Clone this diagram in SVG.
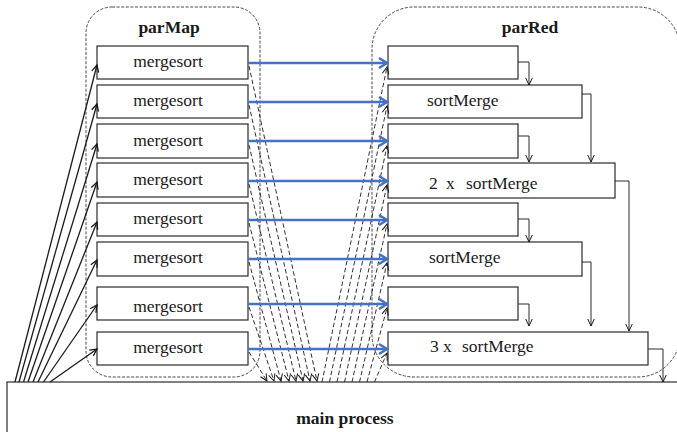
<svg xmlns="http://www.w3.org/2000/svg" width="677" height="432" viewBox="0 0 677 432">
  <style>
    .box { fill: #ffffff; stroke: #2b2b2b; stroke-width: 1.2; }
    .group { fill: none; stroke: #333333; stroke-width: 0.9; stroke-dasharray: 3 1.6; }
    .lbl { font-family: "Liberation Serif", "Times New Roman", serif; font-size: 17.5px; fill: #1a1a1a; }
    .title { font-family: "Liberation Serif", "Times New Roman", serif; font-size: 17.5px; font-weight: bold; fill: #1a1a1a; }
    .spawn { fill: none; stroke: #1a1a1a; stroke-width: 1.3; marker-end: url(#vhead); }
    .data { fill: none; stroke: #4472c4; stroke-width: 2.4; marker-end: url(#bhead); }
    .ret { fill: none; stroke: #1a1a1a; stroke-width: 0.9; stroke-dasharray: 4.5 2.5; marker-end: url(#vsmall); }
    .step { fill: none; stroke: #2b2b2b; stroke-width: 1; marker-end: url(#vsmall); }
  </style>
  <defs>
    <marker id="vhead" markerUnits="userSpaceOnUse" markerWidth="12" markerHeight="12" viewBox="-10 -6 12 12" refX="0" refY="0" orient="auto">
      <path d="M-7,-3.5 L0,0 L-7,3.5" fill="none" stroke="#1a1a1a" stroke-width="1.3"/>
    </marker>
    <marker id="vsmall" markerUnits="userSpaceOnUse" markerWidth="12" markerHeight="12" viewBox="-10 -6 12 12" refX="0" refY="0" orient="auto">
      <path d="M-7,-3.3 L0,0 L-7,3.3" fill="none" stroke="#1a1a1a" stroke-width="1"/>
    </marker>
    <marker id="bhead" markerUnits="userSpaceOnUse" markerWidth="14" markerHeight="14" viewBox="-12 -7 14 14" refX="0" refY="0" orient="auto">
      <path d="M-8,-5 L0,0 L-8,5" fill="none" stroke="#4472c4" stroke-width="2.6"/>
    </marker>
  </defs>

  <!-- main process -->
  <g id="main">
    <rect class="box" x="7" y="382" width="700" height="80"/>
    <text class="title" x="345" y="424" text-anchor="middle">main process</text>
  </g>

  <!-- parMap container -->
  <g id="parMap">
    <rect class="group" x="86" y="7" width="174" height="370" rx="26" ry="26"/>
    <text class="title" x="169" y="33" text-anchor="middle">parMap</text>
  </g>

  <!-- parRed container -->
  <g id="parRed">
    <rect class="group" x="372" y="7" width="308" height="370" rx="42" ry="42"/>
    <text class="title" x="530" y="33" text-anchor="middle">parRed</text>
  </g>

  <!-- mergesort workers -->
  <g id="m1"><rect class="box" x="97" y="46" width="151" height="33"/><text class="lbl" x="168" y="67" text-anchor="middle">mergesort</text></g>
  <g id="m2"><rect class="box" x="97" y="85" width="151" height="33"/><text class="lbl" x="168" y="106" text-anchor="middle">mergesort</text></g>
  <g id="m3"><rect class="box" x="97" y="124" width="151" height="34"/><text class="lbl" x="168" y="146" text-anchor="middle">mergesort</text></g>
  <g id="m4"><rect class="box" x="97" y="163" width="151" height="34"/><text class="lbl" x="168" y="185" text-anchor="middle">mergesort</text></g>
  <g id="m5"><rect class="box" x="97" y="203" width="151" height="33"/><text class="lbl" x="168" y="224" text-anchor="middle">mergesort</text></g>
  <g id="m6"><rect class="box" x="97" y="242" width="151" height="34"/><text class="lbl" x="168" y="263" text-anchor="middle">mergesort</text></g>
  <g id="m7"><rect class="box" x="97" y="287" width="151" height="33"/><text class="lbl" x="168" y="312" text-anchor="middle">mergesort</text></g>
  <g id="m8"><rect class="box" x="97" y="332" width="151" height="33"/><text class="lbl" x="168" y="353" text-anchor="middle">mergesort</text></g>

  <!-- sortMerge reducers -->
  <g id="r1"><rect class="box" x="388" y="46" width="130" height="33"/></g>
  <g id="r2"><rect class="box" x="388" y="85" width="194" height="33"/><text class="lbl" x="427" y="106">sortMerge</text></g>
  <g id="r3"><rect class="box" x="388" y="124" width="130" height="34"/></g>
  <g id="r4"><rect class="box" x="388" y="163" width="227" height="35"/><text class="lbl" y="189"><tspan x="429">2</tspan><tspan x="446">x</tspan><tspan x="466">sortMerge</tspan></text></g>
  <g id="r5"><rect class="box" x="388" y="203" width="130" height="33"/></g>
  <g id="r6"><rect class="box" x="388" y="242" width="194" height="34"/><text class="lbl" x="429" y="263">sortMerge</text></g>
  <g id="r7"><rect class="box" x="388" y="287" width="130" height="33"/></g>
  <g id="r8"><rect class="box" x="388" y="332" width="260" height="33"/><text class="lbl" y="352"><tspan x="430">3</tspan><tspan x="443">x</tspan><tspan x="462">sortMerge</tspan></text></g>

  <!-- connectors -->
  <g id="connectors">
    <!-- spawn: main process to each mergesort -->
    <line class="spawn" x1="15" y1="382" x2="97" y2="65"/>
    <line class="spawn" x1="19" y1="382" x2="97" y2="104"/>
    <line class="spawn" x1="23.5" y1="382" x2="97" y2="144"/>
    <line class="spawn" x1="28" y1="382" x2="97" y2="182"/>
    <line class="spawn" x1="33" y1="382" x2="97" y2="222"/>
    <line class="spawn" x1="38" y1="382" x2="97" y2="260"/>
    <line class="spawn" x1="43.5" y1="382" x2="97" y2="305"/>
    <line class="spawn" x1="50" y1="382" x2="97" y2="349"/>

    <!-- results: mergesort back to main process -->
    <line class="ret" x1="249" y1="66" x2="317" y2="381"/>
    <line class="ret" x1="249" y1="105" x2="310" y2="381"/>
    <line class="ret" x1="249" y1="145" x2="303" y2="381"/>
    <line class="ret" x1="249" y1="184" x2="296" y2="381"/>
    <line class="ret" x1="249" y1="223" x2="289" y2="381"/>
    <line class="ret" x1="249" y1="262" x2="281" y2="381"/>
    <line class="ret" x1="249" y1="307" x2="274" y2="381"/>
    <line class="ret" x1="249" y1="352" x2="267" y2="381"/>

    <!-- spawn: main process to each reducer -->
    <line class="ret" x1="322" y1="382" x2="387" y2="67"/>
    <line class="ret" x1="329.5" y1="382" x2="387" y2="106"/>
    <line class="ret" x1="337" y1="382" x2="387" y2="146"/>
    <line class="ret" x1="344.5" y1="382" x2="387" y2="185"/>
    <line class="ret" x1="352" y1="382" x2="387" y2="224"/>
    <line class="ret" x1="359.5" y1="382" x2="387" y2="263"/>
    <line class="ret" x1="367" y1="382" x2="387" y2="308"/>
    <line class="ret" x1="374.5" y1="382" x2="387" y2="353"/>

    <!-- data streams mergesort -> reducer -->
    <line class="data" x1="248" y1="63" x2="387" y2="63"/>
    <line class="data" x1="248" y1="102" x2="387" y2="102"/>
    <line class="data" x1="248" y1="141" x2="387" y2="141"/>
    <line class="data" x1="248" y1="181" x2="387" y2="181"/>
    <line class="data" x1="248" y1="220" x2="387" y2="220"/>
    <line class="data" x1="248" y1="259" x2="387" y2="259"/>
    <line class="data" x1="248" y1="304" x2="387" y2="304"/>
    <line class="data" x1="248" y1="349" x2="387" y2="349"/>

    <!-- reduction tree -->
    <polyline class="step" points="518,62 529,62 529,85"/>
    <polyline class="step" points="582,94 591,94 591,162"/>
    <polyline class="step" points="518,136 529,136 529,162"/>
    <polyline class="step" points="615,181 629,181 629,331"/>
    <polyline class="step" points="518,219 529,219 529,242"/>
    <polyline class="step" points="582,262 591,262 591,326"/>
    <polyline class="step" points="518,304 529,304 529,326"/>
    <polyline class="step" points="648,349 663,349 663,382"/>
  </g>
</svg>
